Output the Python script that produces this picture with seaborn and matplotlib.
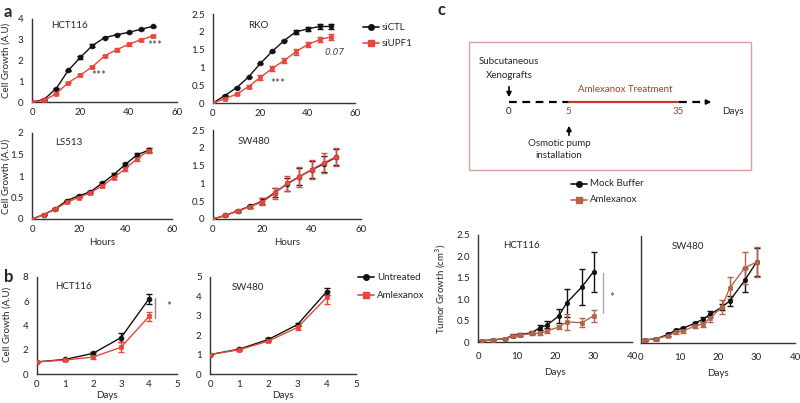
import numpy as np
import pandas as pd
import matplotlib
matplotlib.use("Agg")
import matplotlib.pyplot as plt
import seaborn as sns

# ---------------- data ----------------
hours = [0, 5, 10, 15, 20, 25, 30, 35, 40, 45, 50]
hct_siCTL = [0, 0.12, 0.65, 1.52, 2.15, 2.72, 3.10, 3.24, 3.36, 3.50, 3.65]
hct_siUPF1 = [0, 0.08, 0.40, 0.93, 1.30, 1.70, 2.22, 2.52, 2.78, 3.00, 3.18]
hct_siCTL_err = [0, 0.02, 0.03, 0.03, 0.08, 0.08, 0.03, 0.03, 0.03, 0.03, 0.03]
hct_siUPF1_err = [0, 0.02, 0.03, 0.03, 0.05, 0.05, 0.05, 0.06, 0.06, 0.06, 0.07]

rko_siCTL = [0, 0.21, 0.43, 0.73, 1.11, 1.45, 1.75, 2.00, 2.08, 2.15, 2.15]
rko_siUPF1 = [0, 0.12, 0.25, 0.46, 0.72, 0.97, 1.19, 1.44, 1.64, 1.78, 1.86]
rko_siCTL_err = [0, 0.01, 0.01, 0.01, 0.02, 0.02, 0.02, 0.05, 0.05, 0.07, 0.07]
rko_siUPF1_err = [0, 0.02, 0.03, 0.05, 0.07, 0.08, 0.08, 0.08, 0.08, 0.08, 0.08]

ls_siCTL = [0, 0.10, 0.24, 0.43, 0.54, 0.63, 0.83, 1.03, 1.27, 1.49, 1.60]
ls_siUPF1 = [0, 0.10, 0.23, 0.39, 0.50, 0.61, 0.77, 0.96, 1.17, 1.40, 1.59]
ls_siCTL_err = [0, 0.01, 0.01, 0.02, 0.02, 0.02, 0.02, 0.03, 0.03, 0.04, 0.04]
ls_siUPF1_err = [0, 0.01, 0.01, 0.02, 0.02, 0.02, 0.03, 0.03, 0.05, 0.06, 0.06]

sw_siCTL = [0, 0.10, 0.23, 0.36, 0.50, 0.74, 0.98, 1.19, 1.38, 1.55, 1.74]
sw_siUPF1 = [0, 0.10, 0.22, 0.35, 0.48, 0.72, 1.00, 1.19, 1.39, 1.58, 1.75]
sw_siCTL_err = [0, 0.01, 0.02, 0.04, 0.08, 0.12, 0.18, 0.24, 0.24, 0.22, 0.22]
sw_siUPF1_err = [0, 0.01, 0.02, 0.05, 0.10, 0.15, 0.22, 0.28, 0.28, 0.28, 0.25]

days_b = [0, 1, 2, 3, 4]
b_hct_untr = [1.0, 1.2, 1.7, 3.0, 6.2]
b_hct_aml = [1.0, 1.15, 1.4, 2.2, 4.75]
b_hct_untr_err = [0, 0.05, 0.12, 0.4, 0.4]
b_hct_aml_err = [0, 0.05, 0.15, 0.4, 0.35]
b_sw_untr = [1.0, 1.28, 1.78, 2.55, 4.25]
b_sw_aml = [1.0, 1.25, 1.70, 2.40, 3.95]
b_sw_untr_err = [0, 0.04, 0.06, 0.08, 0.2]
b_sw_aml_err = [0, 0.04, 0.06, 0.12, 0.35]

days_c = [1, 4, 7, 9, 11, 14, 16, 18, 21, 23, 27, 30]
c_hct_mock = [0.03, 0.05, 0.08, 0.15, 0.17, 0.22, 0.33, 0.40, 0.61, 0.91, 1.29, 1.64]
c_hct_aml = [0.03, 0.05, 0.08, 0.14, 0.16, 0.20, 0.20, 0.26, 0.35, 0.47, 0.45, 0.61]
c_hct_mock_err = [0.01, 0.01, 0.02, 0.03, 0.03, 0.04, 0.06, 0.08, 0.17, 0.32, 0.42, 0.47]
c_hct_aml_err = [0.01, 0.01, 0.02, 0.02, 0.03, 0.03, 0.04, 0.04, 0.05, 0.18, 0.10, 0.14]
c_sw_mock = [0.07, 0.10, 0.20, 0.30, 0.35, 0.46, 0.55, 0.67, 0.84, 0.98, 1.47, 1.89]
c_sw_aml = [0.07, 0.10, 0.17, 0.25, 0.28, 0.40, 0.44, 0.58, 0.84, 1.28, 1.76, 1.89]
c_sw_mock_err = [0.02, 0.02, 0.03, 0.03, 0.03, 0.04, 0.05, 0.07, 0.08, 0.12, 0.28, 0.32]
c_sw_aml_err = [0.02, 0.02, 0.03, 0.03, 0.04, 0.05, 0.06, 0.08, 0.17, 0.26, 0.37, 0.35]

# ---------------- style ----------------
sns.set_theme(style="white")
plt.rcParams["font.family"] = ["Lato", "DejaVu Sans"]
plt.rcParams["font.size"] = 7

RED = "#E8473D"
BLK = "#111111"
BRN = "#B5644A"
AXC = "#333333"

W, H = 800, 403
fig = plt.figure(figsize=(W / 100, H / 100), dpi=100)


def ax_px(l, t, r, b):
    return fig.add_axes([l / W, 1 - b / H, (r - l) / W, (b - t) / H])


def style(ax, xdir="in", ydir="out"):
    sns.despine(ax=ax)
    for s in ("left", "bottom"):
        ax.spines[s].set_color(AXC)
        ax.spines[s].set_linewidth(1.0)
    ax.tick_params(axis="x", direction=xdir, length=3, width=1, color=AXC,
                   labelsize=7, pad=4, labelcolor="#222222")
    ax.tick_params(axis="y", direction=ydir, length=3, width=1, color=AXC,
                   labelsize=7, pad=3, labelcolor="#222222")
    ax.patch.set_alpha(0)


def series(ax, x, y, err, color, marker, ms=3.5, lw=1.0):
    df = pd.DataFrame({"x": x, "y": y})
    sns.lineplot(data=df, x="x", y="y", ax=ax, color=color, marker=marker,
                 markersize=ms, linewidth=lw, markeredgecolor=color,
                 markeredgewidth=0.5, errorbar=None, zorder=3)
    ax.errorbar(x, y, yerr=err, fmt="none", ecolor=color, elinewidth=1.0,
                capsize=2.2, capthick=1.0, zorder=2)
    ax.set_xlabel("")
    ax.set_ylabel("")


STAR = dict(fontsize=8.5, color="#444444", va="center", ha="left")

# ---------------- panel a ----------------
a1 = ax_px(32, 19, 177, 102)
series(a1, hours, hct_siCTL, hct_siCTL_err, BLK, "o")
series(a1, hours, hct_siUPF1, hct_siUPF1_err, RED, "s")
a1.set_xlim(0, 60); a1.set_ylim(0, 4)
a1.set_xticks([0, 20, 40, 60]); a1.set_yticks([0, 1, 2, 3, 4])
a1.text(8, 3.55, "HCT116", fontsize=7)
a1.text(24.5, 1.28, "***", **STAR)
a1.text(47.5, 2.7, "***", **STAR)
style(a1)

a2 = ax_px(213, 14, 355, 103)
series(a2, hours, rko_siCTL, rko_siCTL_err, BLK, "o")
series(a2, hours, rko_siUPF1, rko_siUPF1_err, RED, "s")
a2.set_xlim(0, 60); a2.set_ylim(0, 2.5)
a2.set_xticks([0, 20, 40, 60]); a2.set_yticks([0, 0.5, 1, 1.5, 2, 2.5])
a2.set_yticklabels(["0", "0.5", "1", "1.5", "2", "2.5"])
a2.text(15, 2.1, "RKO", fontsize=7)
a2.text(24, 0.56, "***", **STAR)
a2.text(47, 1.42, "0.07", fontsize=6.5, color="#444444", style="italic",
        family="DejaVu Sans", va="center")
style(a2)

a3 = ax_px(32, 133, 172, 219)
series(a3, hours, ls_siCTL, ls_siCTL_err, BLK, "o")
series(a3, hours, ls_siUPF1, ls_siUPF1_err, RED, "s")
a3.set_xlim(0, 60); a3.set_ylim(0, 2)
a3.set_xticks([0, 20, 40, 60]); a3.set_yticks([0, 0.5, 1, 1.5, 2])
a3.set_yticklabels(["0", "0.5", "1", "1.5", "2"])
a3.text(10, 1.72, "LS513", fontsize=7)
a3.set_xlabel("Hours", fontsize=7, labelpad=3)
style(a3)

a4 = ax_px(213, 130, 361, 219)
series(a4, hours, sw_siCTL, sw_siCTL_err, BLK, "o")
series(a4, hours, sw_siUPF1, sw_siUPF1_err, RED, "s")
a4.set_xlim(0, 60); a4.set_ylim(0, 2.5)
a4.set_xticks([0, 20, 40, 60]); a4.set_yticks([0, 0.5, 1, 1.5, 2, 2.5])
a4.set_yticklabels(["0", "0.5", "1", "1.5", "2", "2.5"])
a4.text(10, 2.1, "SW480", fontsize=7)
a4.set_xlabel("Hours", fontsize=7, labelpad=3)
style(a4)

# ---------------- panel b ----------------
b1 = ax_px(37, 277, 177, 374)
series(b1, days_b, b_hct_untr, b_hct_untr_err, BLK, "o")
series(b1, days_b, b_hct_aml, b_hct_aml_err, RED, "s")
b1.set_xlim(0, 5); b1.set_ylim(0, 8)
b1.set_xticks([0, 1, 2, 3, 4, 5]); b1.set_yticks([0, 2, 4, 6, 8])
b1.text(0.65, 7.0, "HCT116", fontsize=7)
b1.plot([4.2, 4.2], [4.6, 6.3], color="#888888", lw=1)
b1.text(4.62, 5.6, "*", **STAR)
b1.set_xlabel("Days", fontsize=7, labelpad=2)
style(b1)

b2 = ax_px(210, 277, 356, 374)
series(b2, days_b, b_sw_untr, b_sw_untr_err, BLK, "o")
series(b2, days_b, b_sw_aml, b_sw_aml_err, RED, "s")
b2.set_xlim(0, 5); b2.set_ylim(0, 5)
b2.set_xticks([0, 1, 2, 3, 4, 5]); b2.set_yticks([0, 1, 2, 3, 4, 5])
b2.text(0.75, 4.35, "SW480", fontsize=7)
b2.set_xlabel("Days", fontsize=7, labelpad=2)
style(b2)

# ---------------- panel c ----------------
c1 = ax_px(478, 235, 632, 342)
series(c1, days_c, c_hct_mock, c_hct_mock_err, BLK, "o", ms=3.2)
series(c1, days_c, c_hct_aml, c_hct_aml_err, BRN, "s", ms=3.2)
c1.set_xlim(0, 40); c1.set_ylim(0, 2.5)
c1.set_xticks([0, 10, 20, 30, 40]); c1.set_yticks([0, 0.5, 1.0, 1.5, 2.0, 2.5])
c1.set_yticklabels(["0", "0.5", "1.0", "1.5", "2.0", "2.5"])
c1.text(6.5, 2.2, "HCT116", fontsize=7)
c1.plot([32.5, 32.5], [0.68, 1.61], color="#AAAAAA", lw=1)
c1.text(34.2, 1.05, "*", **STAR)
c1.set_xlabel("Days", fontsize=7, labelpad=5)
c1.set_ylabel("Tumor Growth (cm$^3$)", fontsize=7, labelpad=6)
style(c1, xdir="out")

c2 = ax_px(641, 236, 795, 343)
series(c2, days_c, c_sw_mock, c_sw_mock_err, BLK, "o", ms=3.2)
series(c2, days_c, c_sw_aml, c_sw_aml_err, BRN, "s", ms=3.2)
c2.set_xlim(0, 40); c2.set_ylim(0, 2.5)
c2.set_xticks([0, 10, 20, 30, 40]); c2.set_yticks([0, 0.5, 1.0, 1.5, 2.0, 2.5])
c2.set_yticklabels([])
c2.text(8, 2.2, "SW480", fontsize=7)
c2.set_xlabel("Days", fontsize=7, labelpad=5)
style(c2, xdir="out")

# ---------------- overlay (labels, legends, diagram) ----------------
ov = fig.add_axes([0, 0, 1, 1])
ov.set_xlim(0, W); ov.set_ylim(H, 0); ov.axis("off"); ov.patch.set_alpha(0)

ov.text(4, 12, "a", fontsize=12, fontweight="bold", va="center")
ov.text(4, 277, "b", fontsize=12, fontweight="bold", va="center")
ov.text(437, 10, "c", fontsize=12, fontweight="bold", va="center")

ylab = "Cell Growth (A.U)"
ov.text(6, 60, ylab, rotation=90, ha="center", va="center", fontsize=7)
ov.text(6, 176, ylab, rotation=90, ha="center", va="center", fontsize=7)
ov.text(7, 324, ylab, rotation=90, ha="center", va="center", fontsize=7)


def leg(x, y, color, marker, label):
    ov.plot([x, x + 16], [y, y], color=color, lw=1.2)
    ov.plot([x + 8], [y], marker=marker, color=color, ms=4, mec=color)
    ov.text(x + 19, y, label, va="center", fontsize=7)


leg(363, 27, BLK, "o", "siCTL")
leg(363, 43, RED, "s", "siUPF1")
leg(358, 277, BLK, "o", "Untreated")
leg(358, 295, RED, "s", "Amlexanox")
leg(571, 184, BLK, "o", "Mock Buffer")
leg(571, 200, BRN, "s", "Amlexanox")

# diagram box
ov.add_patch(plt.Rectangle((469, 42), 282, 128, fill=False, ec="#D6A39C", lw=1))
ov.plot([509, 569], [102, 102], color="black", lw=1.6, ls=(0, (3.5, 2.5)))
ov.plot([569, 679], [102, 102], color="#C0392B", lw=1.6)
ov.plot([679, 708], [102, 102], color="black", lw=1.6, ls=(0, (3.5, 2.5)))
ov.annotate("", xy=(714, 102), xytext=(704, 102),
            arrowprops=dict(arrowstyle="-|>", color="black", lw=1.2, mutation_scale=7))
ov.annotate("", xy=(509, 100), xytext=(509, 84),
            arrowprops=dict(arrowstyle="-|>", color="black", lw=1.2, mutation_scale=7))
ov.annotate("", xy=(569, 123), xytext=(569, 138),
            arrowprops=dict(arrowstyle="-|>", color="black", lw=1.2, mutation_scale=7))
ov.text(509, 112, "0", ha="center", va="center", fontsize=7)
ov.text(568, 112, "5", ha="center", va="center", fontsize=7, color="#A5402E")
ov.text(678, 112, "35", ha="center", va="center", fontsize=7, color="#A5402E")
ov.text(722, 112, "Days", ha="left", va="center", fontsize=7)
ov.text(625, 90, "Amlexanox Treatment", ha="center", va="center", fontsize=7, color="#A5402E")
ov.text(509, 62, "Subcutaneous", ha="center", va="center", fontsize=7)
ov.text(509, 75, "Xenografts", ha="center", va="center", fontsize=7)
ov.text(559, 143, "Osmotic pump", ha="center", va="center", fontsize=7)
ov.text(559, 156, "installation", ha="center", va="center", fontsize=7)

fig.savefig("out.png", dpi=100)
